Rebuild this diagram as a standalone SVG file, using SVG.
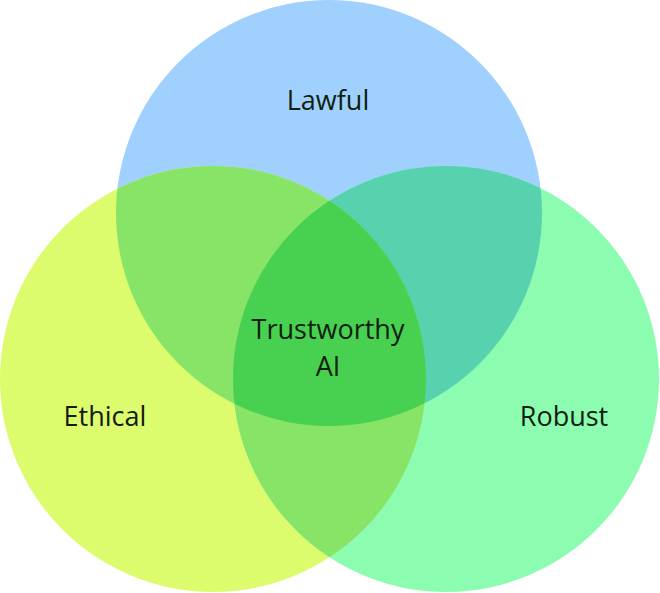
<svg xmlns="http://www.w3.org/2000/svg" width="660" height="593" viewBox="0 0 660 593">
<style>
.lbl{font-family:"Open Sans","Noto Sans",sans-serif;font-size:27px;fill:#102010;text-anchor:middle}
</style>
<defs>
<clipPath id="cT"><circle cx="329" cy="213" r="213"/></clipPath>
<clipPath id="cL"><circle cx="213" cy="379" r="213"/></clipPath>
<clipPath id="cR"><circle cx="446" cy="379" r="213"/></clipPath>
</defs>
<rect width="660" height="593" fill="#ffffff"/>
<g id="lawful">
<circle cx="329" cy="213" r="213" fill="#a0d0fe"/>
</g>
<g id="ethical">
<circle cx="213" cy="379" r="213" fill="#dcfc6e"/>
</g>
<g id="robust">
<circle cx="446" cy="379" r="213" fill="#8cfcb0"/>
</g>
<g id="overlaps">
<circle cx="213" cy="379" r="213" fill="#88e466" clip-path="url(#cT)"/>
<circle cx="446" cy="379" r="213" fill="#58d2ae" clip-path="url(#cT)"/>
<circle cx="446" cy="379" r="213" fill="#88e466" clip-path="url(#cL)"/>
<g clip-path="url(#cT)"><circle cx="446" cy="379" r="213" fill="#48d050" clip-path="url(#cL)"/></g>
</g>
<g id="labels">
<text class="lbl" x="328" y="110">Lawful</text>
<text class="lbl" x="105" y="426">Ethical</text>
<text class="lbl" x="564" y="426">Robust</text>
<text class="lbl" x="328" y="339">Trustworthy</text>
<text class="lbl" x="328" y="376">AI</text>
</g>
</svg>
